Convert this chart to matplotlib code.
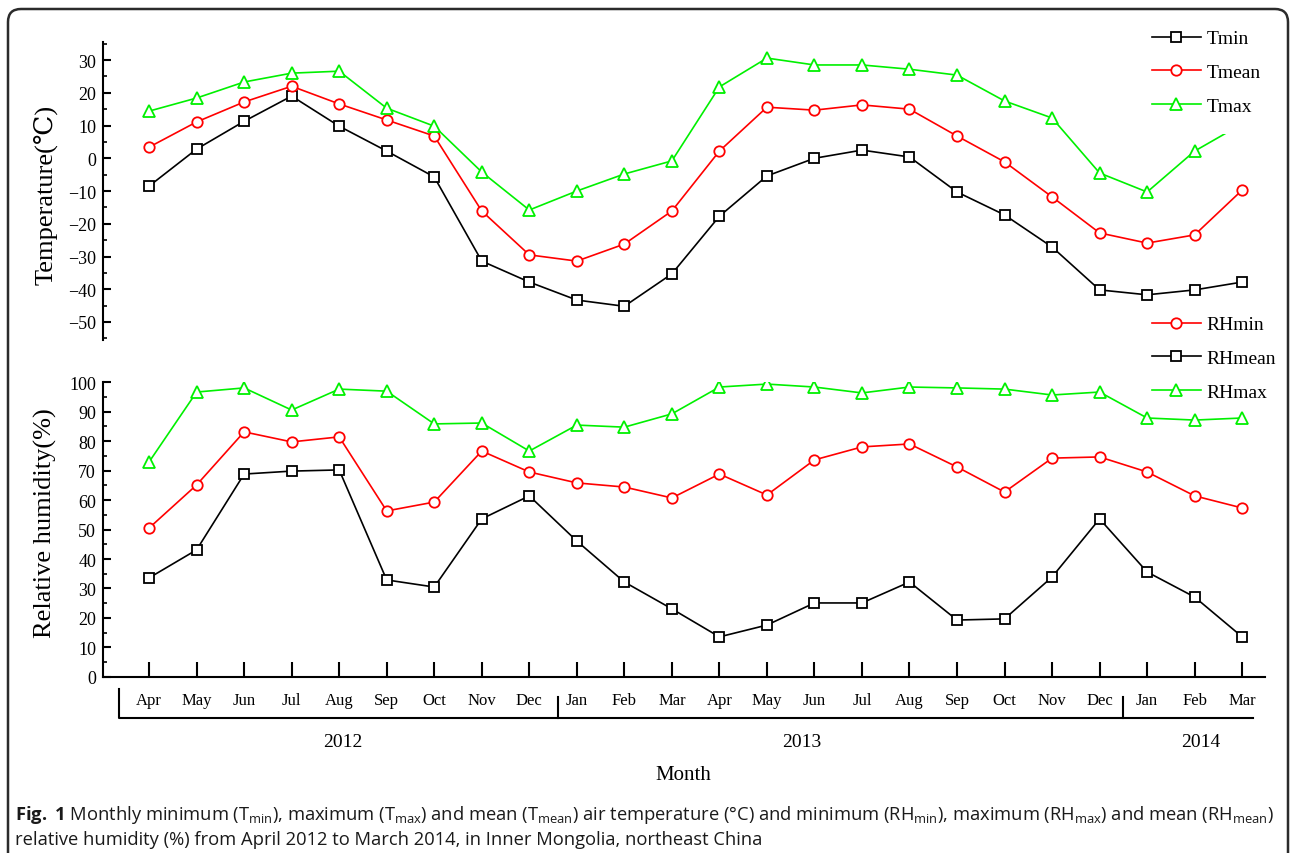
import numpy as np
import matplotlib.pyplot as plt
import matplotlib.transforms as mtransforms
from matplotlib.ticker import MultipleLocator
from matplotlib.patches import FancyBboxPatch

plt.rcParams['font.family'] = ['Liberation Serif', 'DejaVu Serif']
plt.rcParams['mathtext.fontset'] = 'custom'
plt.rcParams['mathtext.rm'] = 'Open Sans'
plt.rcParams['mathtext.bf'] = 'Open Sans:bold'

# Monthly series, April 2012 - March 2014
months = ['Apr', 'May', 'Jun', 'Jul', 'Aug', 'Sep', 'Oct', 'Nov', 'Dec', 'Jan', 'Feb', 'Mar',
          'Apr', 'May', 'Jun', 'Jul', 'Aug', 'Sep', 'Oct', 'Nov', 'Dec', 'Jan', 'Feb', 'Mar']
years = ['2012', '2013', '2014']

tmin = [-8.5, 2.8, 11.3, 19.0, 9.8, 2.2, -5.7, -31.4, -37.8, -43.3, -45.2, -35.3,
        -17.7, -5.4, 0.0, 2.5, 0.4, -10.3, -17.3, -27.1, -40.2, -41.7, -40.2, -37.8]
tmean = [3.4, 11.1, 17.2, 22.0, 16.6, 11.7, 6.8, -16.1, -29.5, -31.4, -26.2, -16.1,
         2.2, 15.6, 14.7, 16.3, 15.0, 6.8, -1.1, -11.8, -22.8, -25.9, -23.4, -9.7]
tmax = [14.4, 18.4, 23.3, 26.0, 26.6, 15.3, 9.8, -4.2, -15.8, -10.0, -4.8, -0.8,
        21.8, 30.6, 28.5, 28.5, 27.2, 25.4, 17.5, 12.3, -4.5, -10.3, 2.2, 10.5]

rhmin = [50.5, 65.1, 83.1, 79.7, 81.4, 56.3, 59.3, 76.6, 69.5, 65.8, 64.4, 60.7,
         68.8, 61.7, 73.6, 78.0, 79.0, 71.2, 62.7, 74.2, 74.6, 69.5, 61.4, 57.3]
rhmean = [33.6, 43.1, 68.8, 69.8, 70.2, 32.9, 30.5, 53.6, 61.4, 46.1, 32.2, 23.1,
          13.6, 17.6, 25.1, 25.1, 32.2, 19.3, 19.7, 33.9, 53.6, 35.6, 27.1, 13.6]
rhmax = [72.9, 96.6, 98.0, 90.5, 97.6, 96.9, 85.8, 86.1, 76.6, 85.4, 84.7, 89.2,
         98.3, 99.3, 98.3, 96.3, 98.3, 98.0, 97.6, 95.6, 96.6, 87.8, 87.1, 87.8]

x = np.arange(len(months))

fig = plt.figure(figsize=(12.92, 8.54), dpi=100)
ax1 = fig.add_axes([0.0797, 0.6007, 0.8994, 0.3489])
ax2 = fig.add_axes([0.0797, 0.2061, 0.8994, 0.3454])

green = '#00f000'
st = dict(lw=1.2, mew=1.3, mfc='white')
ax1.plot(x, tmin, color='black', marker='s', ms=7, label='Tmin', **st)
ax1.plot(x, tmean, color='red', marker='o', ms=7.5, label='Tmean', **st)
ax1.plot(x, tmax, color=green, marker='^', ms=8, label='Tmax', **st)

ax2.plot(x, rhmin, color='red', marker='o', ms=7.5, label='RHmin', **st)
ax2.plot(x, rhmean, color='black', marker='s', ms=7, label='RHmean', **st)
ax2.plot(x, rhmax, color=green, marker='^', ms=8, label='RHmax', **st)

for ax in (ax1, ax2):
    ax.set_xlim(-0.97, 23.48)
    ax.spines['top'].set_visible(False)
    ax.spines['right'].set_visible(False)
    ax.spines['left'].set_linewidth(1.5)
    ax.spines['bottom'].set_linewidth(1.5)
    ax.yaxis.set_major_locator(MultipleLocator(10))
    ax.yaxis.set_minor_locator(MultipleLocator(5))
    ax.tick_params(axis='y', which='major', direction='in', length=6, width=1.5,
                   labelsize=13, pad=5)
    ax.tick_params(axis='y', which='minor', direction='in', length=3, width=1.2)

ax1.set_ylim(-55.5, 35.5)
ax1.spines['bottom'].set_visible(False)
ax1.set_xticks([])

ax2.set_ylim(0, 100)
ax2.set_xticks(x)
ax2.set_xticklabels(months)
ax2.tick_params(axis='x', direction='in', length=11, width=1.5, labelsize=12, pad=11)

# legends sit at the right edge on a white patch
leg_kw = dict(loc='upper left', bbox_transform=fig.transFigure, frameon=True,
              fancybox=False, edgecolor='none', facecolor='white', framealpha=1,
              fontsize=14, handlelength=2.5, handletextpad=0.3, labelspacing=0.83,
              borderaxespad=0)
ax1.legend(bbox_to_anchor=(0.8766, 0.9866), borderpad=1.0, **leg_kw)
ax2.legend(bbox_to_anchor=(0.8856, 0.6382), borderpad=0.4, **leg_kw)

fig.text(0.0348, 0.7717, 'Temperature(℃)', rotation=90, ha='center', va='center', fontsize=19)
fig.text(0.0348, 0.3876, 'Relative humidity(%)', rotation=90, ha='center', va='center', fontsize=19)

# year bracket under the month labels
trans = mtransforms.blended_transform_factory(ax2.transData, fig.transFigure)
yb = 0.1581
ax2.plot([-0.63, -0.63, 23.23], [0.1920, yb, yb], color='black', lw=1.5,
         transform=trans, clip_on=False)
for xd in [8.6, 20.5]:
    ax2.plot([xd, xd], [yb, 0.1827], color='black', lw=1.5, transform=trans, clip_on=False)
for xl, yr in zip([4.08, 13.74, 22.12], years):
    ax2.text(xl, 0.1311, yr, transform=trans, ha='center', va='center', fontsize=14)
ax2.text(11.24, 0.0925, 'Month', transform=trans, ha='center', va='center', fontsize=15)

# caption
cap1 = (r'$\mathbf{Fig.}$ $\mathbf{1}$ Monthly minimum (T$_\mathrm{min}$), maximum (T$_\mathrm{max}$) '
        r'and mean (T$_\mathrm{mean}$) air temperature (°C) and minimum (RH$_\mathrm{min}$), '
        r'maximum (RH$_\mathrm{max}$) and mean (RH$_\mathrm{mean}$)')
cap2 = 'relative humidity (%) from April 2012 to March 2014, in Inner Mongolia, northeast China'
fig.text(15 / 1292, 1 - 815 / 854, cap1, ha='left', va='center', fontsize=13.2,
         family='Open Sans', color='#1a1a1a')
fig.text(15 / 1292, 1 - 840 / 854, cap2, ha='left', va='center', fontsize=13.2,
         family='Open Sans', color='#1a1a1a')

frame = FancyBboxPatch((0.08, -0.5), 12.8, 8.94, boxstyle='round,pad=0,rounding_size=0.13',
                       transform=fig.dpi_scale_trans, fill=False, ec='#2b2b2b', lw=1.8)
fig.add_artist(frame)

fig.savefig('out.png', dpi=100)
